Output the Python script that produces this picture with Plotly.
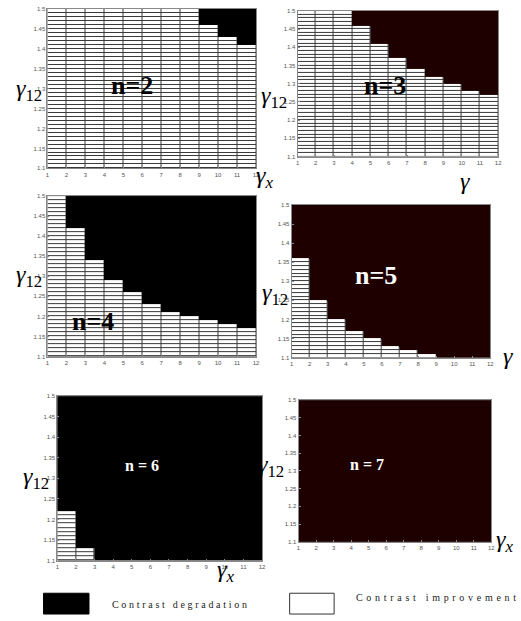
import plotly.graph_objects as go

W, H = 521, 621

# ---------------- data ----------------
x_edges = list(range(1, 13))                      # gamma_x cell edges 1..12
y_edges = [round(1.10 + 0.01 * i, 2) for i in range(41)]  # gamma_12 cell edges 1.10..1.50
x_ticks = list(range(1, 13))
y_ticks = [1.1, 1.15, 1.2, 1.25, 1.3, 1.35, 1.4, 1.45, 1.5]
y_ticktext = ["1.1", "1.15", "1.2", "1.25", "1.3", "1.35", "1.4", "1.45", "1.5"]

# boundary (gamma_12 above which contrast degrades) for each gamma_x column 1-2 ... 11-12
thr_n2 = [1.50, 1.50, 1.50, 1.50, 1.50, 1.50, 1.50, 1.50, 1.46, 1.43, 1.41]
thr_n3 = [1.50, 1.50, 1.50, 1.46, 1.41, 1.37, 1.34, 1.32, 1.30, 1.28, 1.27]
thr_n4 = [1.50, 1.42, 1.34, 1.29, 1.26, 1.23, 1.21, 1.20, 1.19, 1.18, 1.17]
thr_n5 = [1.36, 1.25, 1.20, 1.17, 1.15, 1.13, 1.12, 1.11, 1.10, 1.10, 1.10]
thr_n6 = [1.22, 1.13, 1.10, 1.10, 1.10, 1.10, 1.10, 1.10, 1.10, 1.10, 1.10]
thr_n7 = [1.10, 1.10, 1.10, 1.10, 1.10, 1.10, 1.10, 1.10, 1.10, 1.10, 1.10]

panel_labels = ["n=2", "n=3", "n=4", "n=5", "n = 6", "n = 7"]
thresholds = [thr_n2, thr_n3, thr_n4, thr_n5, thr_n6, thr_n7]
dark_colors = ["#000000", "#1e0000", "#000000", "#1e0000", "#000000", "#1e0000"]

# ---------------- layout geometry (pixels) ----------------
boxes = [  # x0, x1, y0(top), y1(bottom)
    (46, 257, 6, 167),
    (299, 502, 8, 155),
    (46, 257, 195, 357),
    (293, 494, 204, 358),
    (56, 263, 397, 563),
    (300, 495, 401, 544),
]

def px(x):
    return x / W

def py(y):
    return 1 - y / H

fig = go.Figure()
layout = dict(
    width=W, height=H, margin=dict(l=0, r=0, t=0, b=0),
    paper_bgcolor="white", plot_bgcolor="#3a3a3a", showlegend=False,
)
annotations = []
shapes = []

for i, (thr, dark, box) in enumerate(zip(thresholds, dark_colors, boxes)):
    k = "" if i == 0 else str(i + 1)
    xa, ya = "x" + k, "y" + k
    z_dark, z_white = [], []
    for r in range(40):
        yc = (y_edges[r] + y_edges[r + 1]) / 2
        z_dark.append([1 if yc > thr[c] else None for c in range(11)])
        z_white.append([0 if yc <= thr[c] else None for c in range(11)])
    # degradation cells: solid
    fig.add_trace(go.Heatmap(
        x=x_edges, y=y_edges, z=z_dark, xaxis=xa, yaxis=ya,
        zmin=0, zmax=1, colorscale=[[0, dark], [1, dark]],
        showscale=False, hoverinfo="skip",
    ))
    # improvement cells: white with grid gaps
    fig.add_trace(go.Heatmap(
        x=x_edges, y=y_edges, z=z_white, xaxis=xa, yaxis=ya,
        zmin=0, zmax=1, colorscale=[[0, "white"], [1, "white"]],
        showscale=False, xgap=1, ygap=1, hoverinfo="skip",
    ))
    x0, x1, y0, y1 = box
    axstyle = dict(showgrid=False, zeroline=False, showline=True, linecolor="#888",
                   linewidth=1, mirror=True, ticks="inside", ticklen=2, tickcolor="#888",
                   tickfont=dict(family="Liberation Sans", size=6, color="#555"))
    layout["xaxis" + k] = dict(domain=[px(x0), px(x1)], range=[1, 12], tickvals=x_ticks,
                               anchor=ya, **axstyle)
    layout["yaxis" + k] = dict(domain=[py(y1), py(y0)], range=[1.1, 1.5], tickvals=y_ticks,
                               ticktext=y_ticktext, anchor=xa, **axstyle)

def ann(x, y, text, font, xanchor="center"):
    return dict(x=px(x), y=py(y), xref="paper", yref="paper", text=text, showarrow=False,
                xanchor=xanchor, yanchor="middle", font=font)

# panel labels
lab_pos = [(132, 83, 26, "black"), (387, 83, 26, "black"), (92, 322, 26, "black"),
           (378, 275, 26, "white"), (142, 467, 16, "white"), (369, 466, 16, "white")]
for t, (lx, ly, sz, col) in zip(panel_labels, lab_pos):
    annotations.append(ann(lx, ly, "<b>%s</b>" % t,
                           dict(family="Liberation Serif", size=sz, color=col)))

# axis titles
g12 = "<i>γ</i><sub>12</sub>"
gx = "<i>γ<sub>x</sub></i>"
ttl = [
    (27, 88, g12), (275, 95, g12), (27, 276, g12), (276, 294, g12), (34, 480, g12), (272, 468, g12),
    (266, 176, gx), (468, 180, "<i>γ</i>"), (512, 356, "<i>γ</i>"), (226, 574, gx), (508, 543, gx),
]
for tx, ty, t in ttl:
    annotations.append(ann(tx, ty, t, dict(family="Liberation Serif", size=24, color="black")))

# legend
shapes.append(dict(type="rect", xref="paper", yref="paper", x0=px(42), x1=px(88), y0=py(617), y1=py(596),
                   fillcolor="black", line=dict(color="black", width=1)))
shapes.append(dict(type="rect", xref="paper", yref="paper", x0=px(291), x1=px(336), y0=py(617), y1=py(596),
                   fillcolor="white", line=dict(color="#333", width=1)))
annotations.append(ann(109, 607, '<span style="letter-spacing:2.7px">Contrast degradation</span>',
                       dict(family="Liberation Serif", size=10, color="#222"), xanchor="left"))
annotations.append(ann(356, 600, '<span style="letter-spacing:3.7px">Contrast improvement</span>',
                       dict(family="Liberation Serif", size=10, color="#222"), xanchor="left"))

layout["annotations"] = annotations
layout["shapes"] = shapes
fig.update_layout(**layout)
fig.write_html("out.html", config={"displayModeBar": False},
               post_script="document.body.style.margin='0';document.body.style.overflow='hidden';")
